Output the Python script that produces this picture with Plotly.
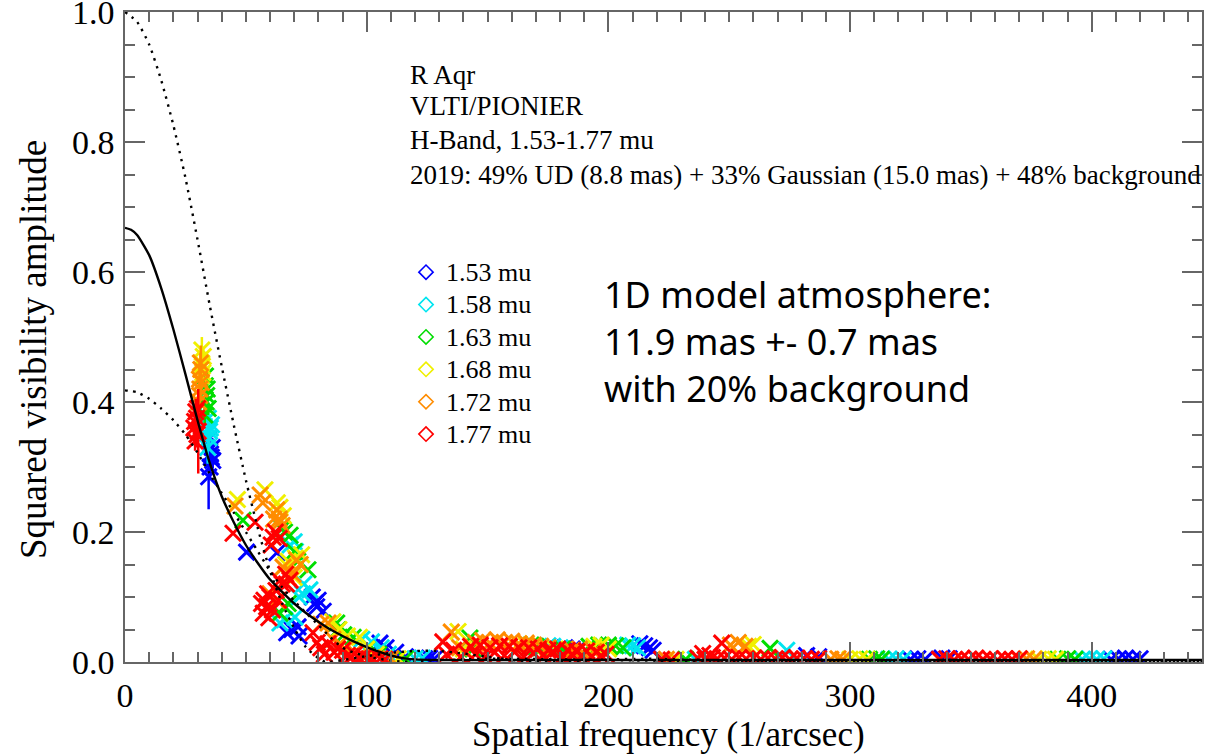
import plotly.graph_objects as go

# ---------------- data ----------------
wavelength_labels = ["1.53 mu", "1.58 mu", "1.63 mu", "1.68 mu", "1.72 mu", "1.77 mu"]
colors = ["#0000ff", "#00e5f0", "#00dd00", "#f0f000", "#ff8c00", "#ff0000"]

# short-baseline points with error bars (x: 1/arcsec, y: V^2)
blue_a_x = [34.6, 35.2, 35.7, 36.1, 35.0, 35.4, 36.3]
blue_a_y = [0.285, 0.300, 0.315, 0.330, 0.345, 0.320, 0.310]
blue_a_err = [0.050, 0.020, 0.015, 0.015, 0.010, 0.010, 0.012]
cyan_a_x = [34.2, 34.8, 35.3, 34.5, 35.0, 35.8]
cyan_a_y = [0.330, 0.345, 0.360, 0.375, 0.355, 0.365]
cyan_a_err = [0.025, 0.020, 0.015, 0.015, 0.010, 0.010]
green_a_x = [33.0, 33.6, 34.0, 33.3, 33.8, 34.4, 33.2]
green_a_y = [0.380, 0.400, 0.420, 0.440, 0.410, 0.390, 0.425]
green_a_err = [0.015, 0.015, 0.020, 0.015, 0.010, 0.010, 0.010]
yellow_a_x = [31.5, 32.0, 32.4, 31.8, 32.2, 31.6]
yellow_a_y = [0.440, 0.455, 0.470, 0.480, 0.445, 0.460]
yellow_a_err = [0.015, 0.020, 0.015, 0.020, 0.010, 0.010]
orange_a_x = [30.5, 31.0, 31.4, 30.8, 31.2, 30.9, 31.6]
orange_a_y = [0.400, 0.420, 0.450, 0.435, 0.460, 0.410, 0.430]
orange_a_err = [0.020, 0.015, 0.037, 0.020, 0.015, 0.010, 0.010]
red_a_x = [28.8, 29.3, 29.8, 30.3, 29.0, 29.6, 28.5, 30.0]
red_a_y = [0.370, 0.385, 0.350, 0.355, 0.340, 0.375, 0.360, 0.390]
red_a_err = [0.015, 0.020, 0.020, 0.065, 0.015, 0.010, 0.010, 0.012]

# remaining points
blue_x = [50.3, 62.8, 66.9, 71.6, 79.3, 79.9, 77.5, 72.0, 82.0, 78.5, 69.0,
          105.5, 108.0, 112.0, 116.0, 124.0, 126.0, 128.0,
          182, 185, 187, 213, 215, 217, 218.5,
          282, 287, 325, 328, 331, 338, 341,
          408, 411, 414, 417, 420]
blue_y = [0.169, 0.168, 0.045, 0.054, 0.085, 0.095, 0.100, 0.040, 0.078, 0.090, 0.050,
          0.029, 0.022, 0.015, 0.008, 0.005, 0.006, 0.005,
          0.022, 0.020, 0.018, 0.028, 0.025, 0.022, 0.018,
          0.010, 0.008, 0.004, 0.005, 0.004, 0.006, 0.005,
          0.004, 0.005, 0.006, 0.004, 0.005]

cyan_x = [68.3, 70.5, 76.5, 74.0, 64.1, 70.3, 72.0, 70.0, 66.0, 73.5,
          98.0, 102.0, 106.0, 109.0, 120.0, 123.0,
          175, 177, 180, 208, 210, 212,
          236, 273.8, 316, 319, 322,
          396, 399, 402, 405]
cyan_y = [0.180, 0.170, 0.111, 0.120, 0.060, 0.069, 0.100, 0.185, 0.065, 0.105,
          0.035, 0.031, 0.022, 0.012, 0.005, 0.006,
          0.025, 0.024, 0.022, 0.026, 0.025, 0.022,
          0.004, 0.018, 0.004, 0.005, 0.004,
          0.004, 0.005, 0.004, 0.005]

green_x = [48.8, 66.0, 68.3, 70.0, 75.7, 64.1, 67.5, 87.6, 65.0, 71.5, 66.0,
           88.0, 90.5, 94.4, 100.0, 105.0, 116.0,
           142.7, 144.0, 168, 170, 172, 181, 192, 196, 200, 203, 206,
           232, 266.9, 308, 311, 313,
           386, 390, 393]
green_y = [0.218, 0.200, 0.195, 0.170, 0.142, 0.075, 0.090, 0.060, 0.205, 0.155, 0.085,
           0.049, 0.042, 0.038, 0.020, 0.012, 0.005,
           0.037, 0.020, 0.026, 0.024, 0.022, 0.020, 0.024, 0.026, 0.026, 0.025, 0.022,
           0.004, 0.021, 0.004, 0.005, 0.004,
           0.004, 0.005, 0.004]

yellow_x = [46.5, 57.9, 64.1, 65.5, 73.1, 66.5, 70.0, 63.0, 67.5, 70.5,
            86.0, 88.5, 92.0, 97.0, 100.0, 104.0, 113.0,
            137.8, 140.0, 163, 166, 169, 178, 194, 197, 200,
            228, 258.0, 259.9, 300, 304, 307,
            378, 382, 385]
yellow_y = [0.250, 0.265, 0.238, 0.225, 0.165, 0.150, 0.130, 0.245, 0.155, 0.160,
            0.062, 0.050, 0.040, 0.038, 0.020, 0.012, 0.005,
            0.047, 0.020, 0.028, 0.026, 0.024, 0.020, 0.024, 0.026, 0.020,
            0.004, 0.024, 0.027, 0.004, 0.005, 0.004,
            0.004, 0.005, 0.004]

orange_x = [45.5, 55.9, 57.0, 62.8, 63.8, 65.0, 71.0, 65.4, 62.8, 60.0, 67.5, 64.0, 61.5, 69.5, 72.5,
            81.0, 84.0, 86.0, 89.0, 91.0, 95.0, 98.0, 102.0, 110.0,
            135.0, 138.5, 145, 148, 151, 154, 157, 160, 163, 166, 169, 172, 175,
            185, 188, 191, 194,
            224, 250.5, 253.7, 256.5, 292, 295, 297,
            370, 373, 376]
orange_y = [0.240, 0.257, 0.245, 0.234, 0.220, 0.210, 0.157, 0.146, 0.095, 0.105, 0.130, 0.215, 0.220, 0.135, 0.150,
            0.058, 0.060, 0.035, 0.028, 0.020, 0.015, 0.010, 0.006, 0.005,
            0.046, 0.022, 0.030, 0.033, 0.029, 0.034, 0.030, 0.032, 0.028, 0.029, 0.026, 0.024, 0.022,
            0.018, 0.020, 0.017, 0.016,
            0.004, 0.026, 0.030, 0.024, 0.004, 0.005, 0.004,
            0.004, 0.005, 0.004]

red_x = [44.7, 53.8, 61.3, 60.5, 62.2, 65.0, 66.5, 68.3, 58.6, 60.0, 57.2, 59.5, 62.5, 56.5, 61.0, 63.5,
         57.5, 59.0, 63.8, 64.0, 66.8,
         77.8, 79.5, 81.0, 82.5, 84.0, 86.5, 88.0, 90.0, 92.0, 93.5, 95.0, 97.0, 99.0, 101.0, 103.0, 105.5, 107.5,
         131.5, 133.0, 136.0, 139.0, 141.0,
         143, 145, 147, 149, 151, 153, 155, 157, 159, 161, 163, 165, 167, 169, 171,
         173, 175, 177, 179, 181, 183, 185, 187, 189, 191, 193, 195, 197, 199,
         222, 226, 239, 242, 246.9,
         237, 240, 243, 245, 248, 251, 254, 257, 260, 263, 266, 269, 272, 275, 278, 281, 284, 287,
         337, 340, 343, 346, 349, 352, 355, 358, 361, 364, 367, 370]
red_y = [0.198, 0.215, 0.192, 0.180, 0.200, 0.120, 0.135, 0.126, 0.085, 0.100, 0.075, 0.068, 0.110, 0.090, 0.080, 0.095,
         0.095, 0.105, 0.190, 0.125, 0.120,
         0.045, 0.030, 0.022, 0.012, 0.028, 0.015, 0.020, 0.018, 0.010, 0.008, 0.012, 0.006, 0.008, 0.005, 0.004, 0.005, 0.004,
         0.031, 0.012, 0.018, 0.008, 0.015,
         0.024, 0.012, 0.026, 0.008, 0.022, 0.015, 0.025, 0.010, 0.024, 0.016, 0.022, 0.008, 0.022, 0.014, 0.020,
         0.010, 0.018, 0.016, 0.020, 0.008, 0.018, 0.012, 0.016, 0.010, 0.017, 0.008, 0.015, 0.010, 0.012,
         0.004, 0.003, 0.013, 0.010, 0.029,
         0.006, 0.004, 0.007, 0.005, 0.006, 0.004, 0.007, 0.005, 0.006, 0.004, 0.006, 0.005, 0.007, 0.004, 0.006, 0.005, 0.004, 0.005,
         0.004, 0.005, 0.003, 0.005, 0.004, 0.006, 0.004, 0.005, 0.003, 0.005, 0.004, 0.005]

# model curves
atm_x = [0, 2.5, 5, 10, 15, 20, 25, 30, 35, 40, 45, 50, 55, 60, 65, 70, 75, 80, 85, 90, 95,
         100, 105, 110, 115, 120, 130, 150, 200, 300, 450]
atm_y = [0.668, 0.665, 0.657, 0.626, 0.575, 0.512, 0.443, 0.372, 0.307, 0.255, 0.215, 0.180, 0.152, 0.127,
         0.108, 0.090, 0.075, 0.062, 0.050, 0.040, 0.031, 0.023, 0.016, 0.010, 0.006, 0.004,
         0.003, 0.003, 0.003, 0.003, 0.003]

ud_x = [0, 5, 10, 15, 20, 25, 30, 35, 40, 45, 50, 55, 60, 65, 70, 75, 80, 83, 90, 100, 110,
        120, 130, 140, 150, 160, 170, 180, 190, 200, 220, 240, 260, 280, 300, 350, 400, 450]
ud_y = [1.0, 0.985, 0.950, 0.895, 0.826, 0.745, 0.650, 0.550, 0.455, 0.365, 0.280, 0.205, 0.140,
        0.090, 0.052, 0.022, 0.006, 0.0, 0.003, 0.009, 0.014, 0.017, 0.017, 0.013, 0.008, 0.003,
        0.0005, 0.0, 0.002, 0.004, 0.005, 0.003, 0.001, 0.0, 0.001, 0.001, 0.001, 0.001]

fit_x = [0, 5, 10, 15, 20, 25, 30, 35, 40, 45, 50, 55, 60, 65, 70, 75, 80, 85, 90, 95, 100,
         105, 110, 115, 120, 130, 140, 150, 160, 180, 200, 220, 250, 300, 350, 400, 450]
fit_y = [0.418, 0.415, 0.405, 0.390, 0.372, 0.350, 0.322, 0.290, 0.260, 0.230, 0.200, 0.170,
         0.140, 0.115, 0.094, 0.075, 0.057, 0.038, 0.022, 0.014, 0.009, 0.005, 0.0025, 0.0005,
         0.001, 0.003, 0.004, 0.005, 0.005, 0.004, 0.003, 0.002, 0.002, 0.002, 0.002, 0.002, 0.002]

x_ticks = [0, 100, 200, 300, 400]
y_ticks = [0.0, 0.2, 0.4, 0.6, 0.8, 1.0]

# ---------------- figure ----------------
serif = "Liberation Serif, Times New Roman, serif"
sans = "Noto Sans, Open Sans, sans-serif"
fig = go.Figure()

groups = [
    (blue_a_x, blue_a_y, blue_a_err, blue_x, blue_y),
    (cyan_a_x, cyan_a_y, cyan_a_err, cyan_x, cyan_y),
    (green_a_x, green_a_y, green_a_err, green_x, green_y),
    (yellow_a_x, yellow_a_y, yellow_a_err, yellow_x, yellow_y),
    (orange_a_x, orange_a_y, orange_a_err, orange_x, orange_y),
    (red_a_x, red_a_y, red_a_err, red_x, red_y),
]

msize = 16
for (ax, ay, aerr, bx, by), col in zip(groups, colors):
    fig.add_trace(go.Scatter(
        x=bx, y=by, mode="markers", showlegend=False, cliponaxis=True,
        marker=dict(symbol="x-thin-open", size=msize, color=col, line=dict(color=col, width=3)),
    ))
    fig.add_trace(go.Scatter(
        x=ax, y=ay, mode="markers", showlegend=False, cliponaxis=True,
        marker=dict(symbol="x-thin-open", size=msize, color=col, line=dict(color=col, width=3)),
        error_y=dict(type="data", array=aerr, visible=True, color=col, thickness=2.5, width=0),
    ))

# legend entries (open diamonds)
for lab, col in zip(wavelength_labels, colors):
    fig.add_trace(go.Scatter(
        x=[None], y=[None], mode="markers",
        name='<span style="font-size:26px">%s</span>' % lab, showlegend=True,
        marker=dict(symbol="diamond-open", size=11, color=col, line=dict(color=col, width=1.6)),
    ))

dots = dict(color="black", width=2.4, dash="2.4px,5.6px")
fig.add_trace(go.Scatter(x=ud_x, y=ud_y, mode="lines", showlegend=False,
                         line=dict(**dots, shape="spline", smoothing=0.6)))
fig.add_trace(go.Scatter(x=fit_x, y=fit_y, mode="lines", showlegend=False,
                         line=dict(**dots, shape="spline", smoothing=0.6)))
fig.add_trace(go.Scatter(x=atm_x, y=atm_y, mode="lines", showlegend=False,
                         line=dict(color="black", width=2.4, shape="spline", smoothing=0.6)))

axcol = "#666666"
fig.update_xaxes(
    range=[0, 445.6], tickvals=x_ticks, ticktext=[str(v) for v in x_ticks],
    ticks="inside", ticklen=20, tickwidth=1.5, tickcolor=axcol,
    minor=dict(dtick=10, tick0=0, ticks="inside", ticklen=10, tickwidth=1.5, tickcolor=axcol),
    showline=True, linecolor=axcol, linewidth=1.5, mirror="ticks",
    showgrid=False, zeroline=False, automargin=False,
    tickfont=dict(family=serif, size=34, color="black"), ticklabelstandoff=2,
    ticklabeloverflow="allow",
)
fig.update_yaxes(
    range=[0, 1.0001], tickvals=y_ticks, ticktext=["%.1f" % v for v in y_ticks],
    ticks="inside", ticklen=20, tickwidth=1.5, tickcolor=axcol,
    minor=dict(dtick=0.05, tick0=0, ticks="inside", ticklen=10, tickwidth=1.5, tickcolor=axcol),
    showline=True, linecolor=axcol, linewidth=1.5, mirror="ticks",
    showgrid=False, zeroline=False, automargin=False,
    tickfont=dict(family=serif, size=34, color="black"), ticklabelstandoff=2,
    ticklabeloverflow="allow",
)

W, H = 1212, 755
L, R, T, B = 125, 10, 12, 93
pw, ph = W - L - R, H - T - B


def px(xp):
    return (xp - L) / pw


def py(yp):
    return (H - B - yp) / ph


ann = []
# axis titles
ann.append(dict(text="Spatial frequency (1/arcsec)", x=px(668), y=py(735), xref="paper", yref="paper",
                xanchor="center", yanchor="middle", showarrow=False,
                font=dict(family=serif, size=35, color="black")))
ann.append(dict(text="Squared visibility amplitude", x=px(33), y=py(350), xref="paper", yref="paper",
                xanchor="center", yanchor="middle", showarrow=False, textangle=-90,
                font=dict(family=serif, size=37, color="black")))
for txt, y0, fs in [("R Aqr", 75, 27), ("VLTI/PIONIER", 106, 27),
                    ("H-Band, 1.53-1.77 mu", 140, 27),
                    ("2019: 49% UD (8.8 mas) + 33% Gaussian (15.0 mas) + 48% background", 175, 27)]:
    ann.append(dict(text=txt, x=px(408), y=py(y0), xref="paper", yref="paper",
                    xanchor="left", yanchor="middle", showarrow=False,
                    font=dict(family=serif, size=fs, color="black")))
ann.append(dict(text="1D model atmosphere:<br>11.9 mas +- 0.7 mas<br>with 20% background",
                x=px(602), y=py(341), xref="paper", yref="paper", align="left",
                xanchor="left", yanchor="middle", showarrow=False,
                font=dict(family=sans, size=36, color="black")))

fig.update_layout(
    width=W, height=H, margin=dict(l=L, r=R, t=T, b=B, autoexpand=False),
    paper_bgcolor="white", plot_bgcolor="white",
    annotations=ann,
    legend=dict(x=px(406), y=py(251), xanchor="left", yanchor="top",
                font=dict(family=serif, size=22.6, color="black"),
                bgcolor="rgba(0,0,0,0)", borderwidth=0, itemsizing="trace",
                tracegroupgap=0),
)

fig.write_html("out.html", config={"displayModeBar": False},
               post_script="document.body.style.margin='0px';")
